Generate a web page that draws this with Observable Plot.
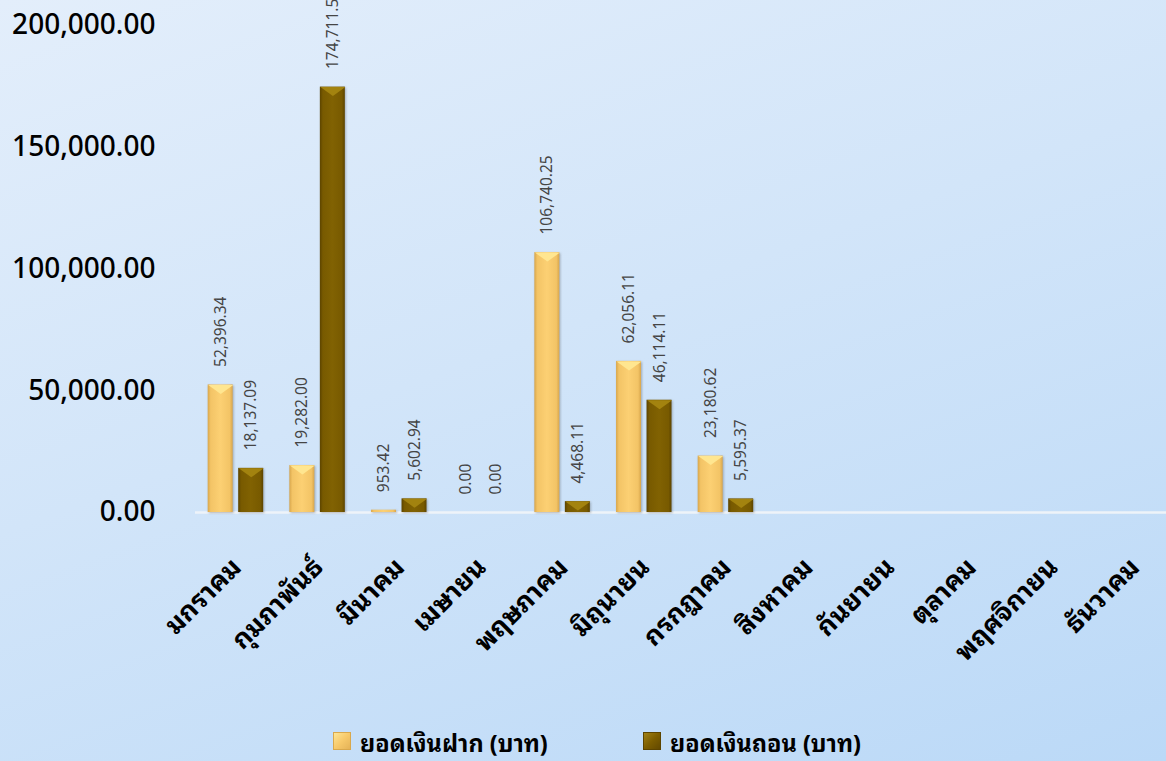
<!DOCTYPE html>
<html><head><meta charset="utf-8">
<script src="https://cdn.jsdelivr.net/npm/d3@7"></script>
<script src="https://cdn.jsdelivr.net/npm/@observablehq/plot@0.6"></script>
<style>
html,body{margin:0;padding:0;}
body{width:1166px;height:761px;overflow:hidden;position:relative;
  background:linear-gradient(160deg,#e3eefb 0%,#d2e5f9 45%,#bbd9f7 100%);
  font-family:"Noto Sans Thai Looped","Loma","Garuda","Tahoma","Noto Sans",sans-serif;}
#chart{position:absolute;left:0;top:0;}
#chart .bar rect{filter:drop-shadow(1px 1px 1px rgba(60,60,60,0.35));}
.leg{position:absolute;top:727px;height:28px;display:flex;align-items:center;font-weight:bold;font-size:23.5px;color:#000;}
.sw{width:18px;height:18px;margin-right:9px;}
.sw1{background:linear-gradient(135deg,#ffe99a 0%,#f7c96a 50%,#e2b055 100%);box-shadow:inset 0 0 0 1px #d9a84c;}
.sw2{background:linear-gradient(135deg,#a68516 0%,#7d5e00 50%,#5f4600 100%);box-shadow:inset 0 0 0 1px #5c4400;}
</style></head>
<body>
<div id="chart"></div>
<div class="leg" style="left:333px"><div class="sw sw1"></div>ยอดเงินฝาก (บาท)</div>
<div class="leg" style="left:643px"><div class="sw sw2"></div>ยอดเงินถอน (บาท)</div>
<script>
const months = ["มกราคม","กุมภาพันธ์","มีนาคม","เมษายน","พฤษภาคม","มิถุนายน","กรกฎาคม","สิงหาคม","กันยายน","ตุลาคม","พฤศจิกายน","ธันวาคม"];
const deposits = [52396.34, 19282.00, 953.42, 0.00, 106740.25, 62056.11, 23180.62, null, null, null, null, null];
const withdrawals = [18137.09, 174711.50, 5602.94, 0.00, 4468.11, 46114.11, 5595.37, null, null, null, null, null];
const yTicks = [0, 50000, 100000, 150000, 200000];

const depData = months.map((m, i) => ({month: m, value: deposits[i]})).filter(d => d.value != null);
const wdData = months.map((m, i) => ({month: m, value: withdrawals[i]})).filter(d => d.value != null);
const fmt = d3.format(",.2f");

const defs = () => {
  const d = d3.create("svg:defs");
  const add = (id, stops) => {
    const g = d.append("linearGradient").attr("id", id).attr("x1", 0).attr("x2", 1).attr("y1", 0).attr("y2", 0);
    stops.forEach(([o, c]) => g.append("stop").attr("offset", o).attr("stop-color", c));
  };
  add("gDep", [[0,"#d8a64c"],[0.12,"#f3c466"],[0.5,"#fcd073"],[0.88,"#f3c466"],[1,"#d8a64c"]]);
  add("gWd", [[0,"#5c4400"],[0.12,"#785a00"],[0.5,"#816202"],[0.88,"#785a00"],[1,"#5c4400"]]);
  return d.node();
};

const bevel = {draw(ctx) { ctx.moveTo(-12.5, 0); ctx.lineTo(12.5, 0); ctx.lineTo(0, 9); ctx.closePath(); }};

const depDx = -14.8, wdDx = 15.7;
const thaiFont = "'Noto Sans Thai Looped', Loma, Garuda, Tahoma, 'Noto Sans', sans-serif";

const plot = Plot.plot({
  width: 1166,
  height: 715,
  marginLeft: 195,
  marginRight: 0,
  marginTop: 25,
  marginBottom: 203,
  style: {background: "transparent", fontFamily: "'Noto Sans', Tahoma, sans-serif", overflow: "hidden"},
  x: {domain: months, range: [194.2, 1174.2], padding: 0, round: false, axis: null},
  y: {domain: [0, 200000], range: [512, 25], axis: null},
  marks: [
    defs,
    Plot.ruleY([0], {stroke: "#eef3f9", strokeWidth: 2.5}),
    Plot.barY(depData, {x: "month", y: "value", fill: "url(#gDep)", insetLeft: 13.5, insetRight: 43.2, className: "bar"}),
    Plot.barY(wdData, {x: "month", y: "value", fill: "url(#gWd)", insetLeft: 44, insetRight: 12.7, className: "bar"}),
    Plot.dot(depData.filter(d => d.value > 4000), {x: "month", y: "value", symbol: bevel, r: 1, fill: "#ffe690", stroke: "none", dx: depDx}),
    Plot.dot(wdData.filter(d => d.value > 4000), {x: "month", y: "value", symbol: bevel, r: 1, fill: "#a3830f", stroke: "none", dx: wdDx}),
    Plot.text(depData, {x: "month", y: "value", text: d => fmt(d.value), rotate: -90, textAnchor: "start", dx: depDx, dy: -18, fontSize: 15.5, fill: "#454545"}),
    Plot.text(wdData, {x: "month", y: "value", text: d => fmt(d.value), rotate: -90, textAnchor: "start", dx: wdDx, dy: -18, fontSize: 15.5, fill: "#454545"}),
    Plot.text(months, {x: d => d, y: () => 0, text: d => d, rotate: -45, textAnchor: "end", lineAnchor: "top", dx: -6, dy: 43, fontSize: 26.5, fontWeight: "bold", fill: "#000", fontFamily: thaiFont}),
    Plot.axisY({ticks: yTicks, tickFormat: fmt, tickSize: 0, tickPadding: 40, fontSize: 28, fontWeight: 500, color: "#000", label: null})
  ]
});
document.getElementById("chart").appendChild(plot);
</script>
</body></html>
